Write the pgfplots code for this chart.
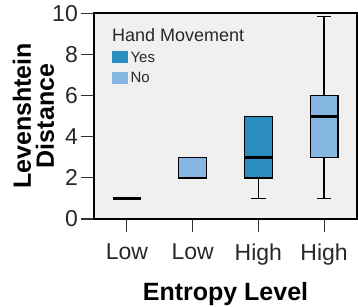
\documentclass[border=0pt]{standalone}
\usepackage{fontspec}
\setmainfont{Liberation Sans}
\usepackage{pgfplots}
\pgfplotsset{compat=1.18}
\usepgfplotslibrary{statistics}
\definecolor{yescol}{RGB}{43,140,190}
\definecolor{nocol}{RGB}{134,182,226}
\definecolor{bgcol}{RGB}{240,240,240}
\definecolor{txt}{RGB}{40,40,40}
\begin{document}
\begin{tikzpicture}
\begin{axis}[
  scale only axis, width=263pt, height=206pt,
  xmin=-0.5, xmax=3.5, ymin=0, ymax=10.03,
  axis background/.style={fill=bgcol},
  xtick={0,1,2,3}, xticklabels={Low,Low,High,High},
  ytick={0,2,4,6,8,10},
  tick align=outside, xtick pos=bottom, ytick pos=left,
  major tick length=13pt,
  tick style={line width=1.1pt, color=black!80},
  axis line style={line width=1.2pt},
  ticklabel style={font=\fontsize{23}{23}\selectfont, text=txt},
  /pgf/number format/assume math mode=true,
  yticklabel style={inner xsep=3pt},
  xticklabel style={yshift=-8pt},
  xlabel={Entropy Level}, ylabel={Levenshtein\\Distance},
  label style={font=\bfseries\fontsize{25}{23}\selectfont},
  xlabel style={at={(axis description cs:0.5,0)}, anchor=base, yshift=-81pt},
  ylabel style={at={(axis description cs:-0.23,0.5)}, anchor=center, align=center},
  legend style={at={(0.0684,0.8155)}, anchor=north west, draw=none, fill=none,
    inner sep=0pt, row sep=9pt, font=\fontsize{15}{15}\selectfont,
    nodes={inner ysep=0pt, inner xsep=3pt, text height=11pt, text depth=0pt, text=txt}},
  legend cell align=left,
  boxplot/draw direction=y,
  boxplot/box extend=0.42, boxplot/whisker extend=0.22,
  boxplot/every median/.style={line width=2.8pt},
]
\addlegendimage{legend image code/.code={\fill[yescol] (0pt,-5.5pt) rectangle (15pt,5.5pt);}}
\addlegendentry{Yes}
\addlegendimage{legend image code/.code={\fill[nocol] (0pt,-5.5pt) rectangle (15pt,5.5pt);}}
\addlegendentry{No}

\addplot[boxplot prepared={draw position=0, median=1, lower quartile=1, upper quartile=1, lower whisker=1, upper whisker=1}, draw=black, line width=1.3pt, fill=yescol, forget plot] coordinates {};
\addplot[boxplot prepared={draw position=1, median=2, lower quartile=2, upper quartile=3, lower whisker=2, upper whisker=3}, draw=black, line width=1.3pt, fill=nocol, forget plot] coordinates {};
\addplot[boxplot prepared={draw position=2, median=3, lower quartile=2, upper quartile=5, lower whisker=1, upper whisker=5}, draw=black, line width=1.3pt, fill=yescol, forget plot] coordinates {};
\addplot[boxplot prepared={draw position=3, median=5, lower quartile=3, upper quartile=6, lower whisker=1, upper whisker=9.85}, draw=black, line width=1.3pt, fill=nocol, forget plot] coordinates {};

\node[anchor=base west, inner sep=0pt, font=\fontsize{18}{18}\selectfont, text=txt] at (rel axis cs:0.0684,0.864) {Hand Movement};
\end{axis}
\pgfresetboundingbox
\useasboundingbox (-94pt,-88pt) rectangle (264pt,219pt);
\end{tikzpicture}
\end{document}
